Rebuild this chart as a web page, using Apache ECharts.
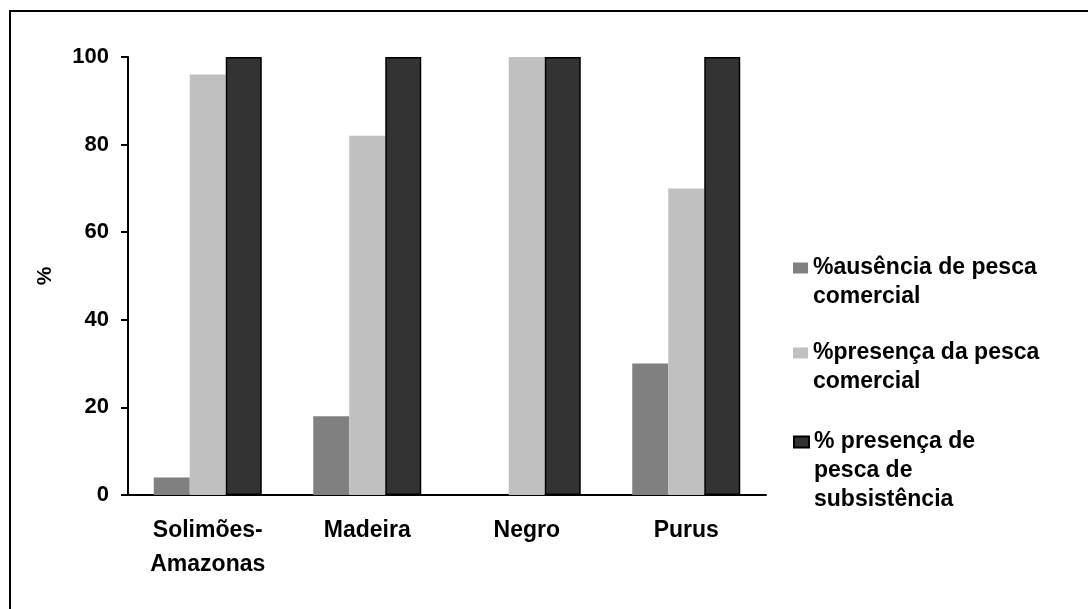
<!DOCTYPE html>
<html>
<head>
<meta charset="utf-8">
<script src="https://cdn.jsdelivr.net/npm/echarts@6/dist/echarts.min.js"></script>
<style>
  html, body { margin: 0; padding: 0; background: #fff; }
  #chart { width: 1088px; height: 609px; }
</style>
</head>
<body>
<div id="chart"></div>
<script>
// Rivers (categories) and the three survey percentages per river
const rivers = ['Solimões-\nAmazonas', 'Madeira', 'Negro', 'Purus'];
const ausenciaComercial = [4, 18, 0, 30];
const presencaComercial = [96, 82, 100, 70];
const presencaSubsistencia = [100, 100, 100, 100];

const seriesNames = [
  '%ausência de pesca comercial',
  '%presença da pesca comercial',
  '% presença de pesca de subsistência'
];
// Legend text, broken into lines
const legendLines = [
  ['%ausência de pesca', 'comercial'],
  ['%presença da pesca', 'comercial'],
  ['% presença de', 'pesca de', 'subsistência']
];
const yTicks = { min: 0, max: 100, step: 20 };

const FONT = '"Liberation Sans", Arial, sans-serif';
const colors = ['#808080', '#c0c0c0', '#333333'];

const chart = echarts.init(document.getElementById('chart'), null, { renderer: 'canvas' });

const LINE_H = 29;
// Each legend item gets its own box so the swatch sits beside the first text line
const legendCenters = [268, 353, 442];
const legends = seriesNames.map((name, i) => {
  const lines = legendLines[i];
  const pad = lines.length - 1; // empty lines above keep the first line centred on the swatch
  const total = lines.length + pad;
  return {
    data: [name],
    orient: 'vertical',
    left: 788,
    top: legendCenters[i] - (total * LINE_H) / 2 - 5,
    itemWidth: 15,
    itemHeight: 11,
    itemGap: 0,
    icon: 'rect',
    selectedMode: false,
    formatter: () => new Array(pad).fill('').concat(lines).join('\n'),
    textStyle: {
      fontFamily: FONT,
      fontWeight: 'bold',
      fontSize: 23,
      lineHeight: LINE_H,
      color: '#000',
      padding: [0, 0, 0, 0]
    }
  };
});

const values = [ausenciaComercial, presencaComercial, presencaSubsistencia];

chart.setOption({
  animation: false,
  backgroundColor: '#fff',
  graphic: [{
    type: 'rect',
    shape: { x: 10, y: 11, width: 1100, height: 640 },
    style: { fill: 'none', stroke: '#000', lineWidth: 2 },
    silent: true
  }],
  legend: legends,
  grid: { left: 128, right: 322, top: 57, bottom: 114 },
  xAxis: {
    type: 'category',
    data: rivers,
    axisLine: { lineStyle: { color: '#000', width: 2 } },
    axisTick: { length: 7, lineStyle: { color: '#000', width: 2 } },
    axisLabel: {
      fontFamily: FONT,
      fontWeight: 'bold',
      fontSize: 23,
      lineHeight: 34,
      color: '#000',
      margin: 19,
      interval: 0
    }
  },
  yAxis: {
    type: 'value',
    min: yTicks.min,
    max: yTicks.max,
    interval: yTicks.step,
    name: '%',
    nameLocation: 'middle',
    nameRotate: 90,
    nameGap: 72,
    nameTextStyle: { fontFamily: FONT, fontWeight: 'bold', fontSize: 21, color: '#000' },
    axisLine: { show: true, lineStyle: { color: '#000', width: 2 } },
    axisTick: { show: true, length: 7, lineStyle: { color: '#000', width: 2 } },
    splitLine: { show: false },
    axisLabel: {
      fontFamily: FONT,
      fontWeight: 'bold',
      fontSize: 22,
      color: '#000',
      margin: 19
    }
  },
  series: seriesNames.map((name, i) => ({
    name,
    type: 'bar',
    data: values[i],
    barWidth: 36,
    barGap: '0%',
    itemStyle: i === 2
      ? { color: colors[i], borderColor: '#000', borderWidth: 1.5 }
      : { color: colors[i] }
  }))
});
</script>
</body>
</html>
